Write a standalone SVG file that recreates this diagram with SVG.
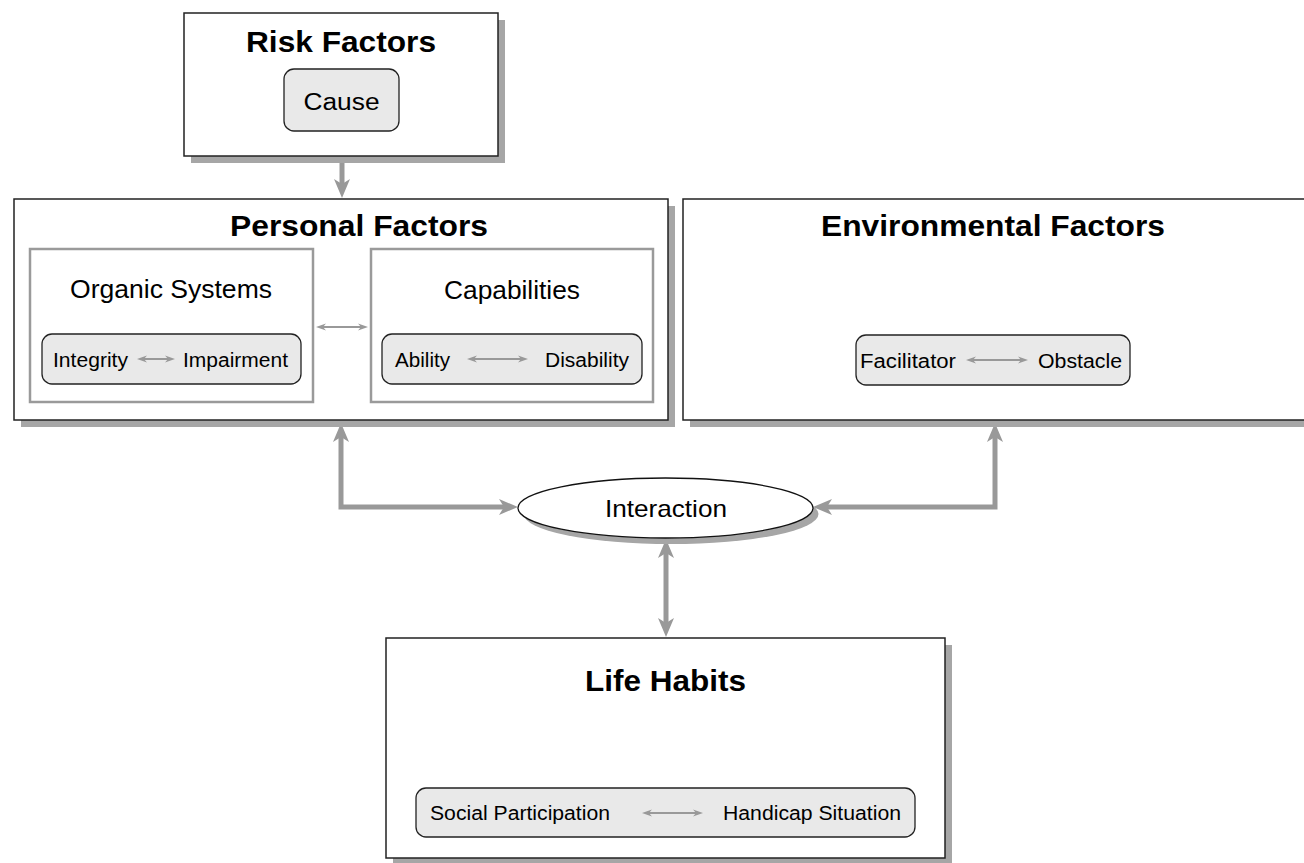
<svg xmlns="http://www.w3.org/2000/svg" width="1304" height="863" viewBox="0 0 1304 863">
  <style>
    .shadow { fill: #a6a6a6; }
    .box { fill: #ffffff; stroke: #222222; stroke-width: 1.5; }
    .inner { fill: #ffffff; stroke: #9a9a9a; stroke-width: 2.5; }
    .pill { fill: #e9e9e9; stroke: #222222; stroke-width: 1.3; }
    .ell { fill: #ffffff; stroke: #111111; stroke-width: 1.3; }
    text { font-family: "Liberation Sans", Arial, Helvetica, sans-serif; fill: #000000; }
    .title { font-weight: bold; font-size: 29px; text-anchor: middle; }
    .sub { font-size: 26px; text-anchor: middle; }
    .mid { font-size: 23px; text-anchor: middle; }
    .lbl { font-size: 20px; }
    .conn { fill: none; stroke: #999999; stroke-width: 5; stroke-linejoin: miter; marker-start: url(#bigHead); marker-end: url(#bigHead); }
    .thin { fill: none; stroke: #999999; stroke-width: 2; marker-start: url(#smallHead); marker-end: url(#smallHead); }
  </style>
  <defs>
    <marker id="bigHead" markerUnits="userSpaceOnUse" viewBox="0 0 20 18" markerWidth="20" markerHeight="18" refX="5" refY="9" orient="auto-start-reverse">
      <path d="M0,1 L19,9 L0,17 L5,9 Z" fill="#999999"/>
    </marker>
    <marker id="smallHead" markerUnits="userSpaceOnUse" viewBox="0 0 11 8" markerWidth="11" markerHeight="8" refX="3" refY="4" orient="auto-start-reverse">
      <path d="M0,0.5 L10,4 L0,7.5 L3,4 Z" fill="#999999"/>
    </marker>
  </defs>

  <!-- connectors -->
  <g id="connectors">
    <path class="conn" style="marker-start:none" d="M342,131 L342,184"/>
    <path class="conn" d="M341,437 L341,507 L504,507"/>
    <path class="conn" d="M827,507 L995,507 L995,437"/>
    <path class="conn" d="M666,553 L666,623"/>
  </g>

  <g id="risk-factors">
    <rect class="shadow" x="191" y="20" width="314" height="143"/>
    <rect class="box" x="184" y="13" width="314" height="143"/>
    <text class="title" x="341" y="52" textLength="190" lengthAdjust="spacingAndGlyphs">Risk Factors</text>
    <rect class="pill" x="284" y="69" width="115" height="62" rx="10"/>
    <text class="mid" x="341.5" y="110" textLength="76" lengthAdjust="spacingAndGlyphs">Cause</text>
  </g>

  <g id="personal-factors">
    <rect class="shadow" x="21" y="206" width="654" height="221"/>
    <rect class="box" x="14" y="199" width="654" height="221"/>
    <text class="title" x="359" y="236" textLength="258" lengthAdjust="spacingAndGlyphs">Personal Factors</text>
    <g id="organic-systems">
      <rect class="inner" x="30" y="249" width="283" height="153"/>
      <text class="sub" x="171" y="298" textLength="202" lengthAdjust="spacingAndGlyphs">Organic Systems</text>
      <rect class="pill" x="42" y="334" width="259" height="50" rx="10"/>
      <text class="lbl" x="53" y="367" textLength="75" lengthAdjust="spacingAndGlyphs">Integrity</text>
      <path class="thin" d="M144,359 L168,359"/>
      <text class="lbl" x="183" y="367" textLength="105" lengthAdjust="spacingAndGlyphs">Impairment</text>
    </g>
    <path class="thin" d="M323,327 L361,327"/>
    <g id="capabilities">
      <rect class="inner" x="371" y="249" width="282" height="153"/>
      <text class="sub" x="512" y="299" textLength="136" lengthAdjust="spacingAndGlyphs">Capabilities</text>
      <rect class="pill" x="382" y="334" width="260" height="50" rx="10"/>
      <text class="lbl" x="395" y="367" textLength="55" lengthAdjust="spacingAndGlyphs">Ability</text>
      <path class="thin" d="M474,359 L521,359"/>
      <text class="lbl" x="545" y="367" textLength="84" lengthAdjust="spacingAndGlyphs">Disability</text>
    </g>
  </g>

  <g id="environmental-factors">
    <rect class="shadow" x="690" y="206" width="640" height="221"/>
    <rect class="box" x="683" y="199" width="640" height="221"/>
    <text class="title" x="993" y="236" textLength="344" lengthAdjust="spacingAndGlyphs">Environmental Factors</text>
    <rect class="pill" x="856" y="335" width="274" height="50" rx="10"/>
    <text class="lbl" x="860" y="368" textLength="96" lengthAdjust="spacingAndGlyphs">Facilitator</text>
    <path class="thin" d="M973,360 L1021,360"/>
    <text class="lbl" x="1038" y="368" textLength="84" lengthAdjust="spacingAndGlyphs">Obstacle</text>
  </g>

  <g id="interaction">
    <ellipse class="shadow" cx="671" cy="514" rx="147.5" ry="30"/>
    <ellipse class="ell" cx="665.5" cy="508" rx="147.5" ry="30"/>
    <text class="mid" style="font-size:24px" x="666" y="517" textLength="122" lengthAdjust="spacingAndGlyphs">Interaction</text>
  </g>

  <g id="life-habits">
    <rect class="shadow" x="393" y="645" width="559" height="220"/>
    <rect class="box" x="386" y="638" width="559" height="220"/>
    <text class="title" style="font-size:30px" x="665.5" y="691" textLength="161" lengthAdjust="spacingAndGlyphs">Life Habits</text>
    <rect class="pill" x="416" y="788" width="499" height="49" rx="10"/>
    <text class="lbl" x="430" y="820" textLength="180" lengthAdjust="spacingAndGlyphs">Social Participation</text>
    <path class="thin" d="M649,813 L696,813"/>
    <text class="lbl" x="723" y="820" textLength="178" lengthAdjust="spacingAndGlyphs">Handicap Situation</text>
  </g>
</svg>
